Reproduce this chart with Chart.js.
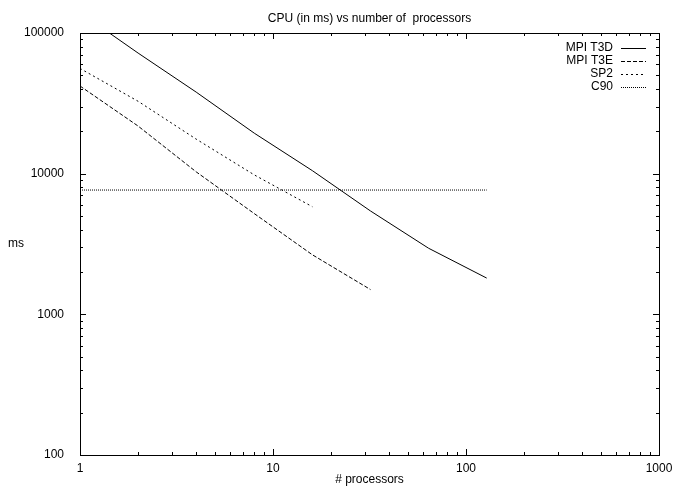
<!DOCTYPE html>
<html>
<head>
<meta charset="utf-8">
<script src="https://cdn.jsdelivr.net/npm/chart.js@4/dist/chart.umd.min.js"></script>
<style>
  html, body { margin: 0; padding: 0; background: #fff; }
  #wrap { width: 674px; height: 486px; }
</style>
</head>
<body>
<div id="wrap"><canvas id="cpuChart" width="674" height="486"></canvas></div>
<script>
// processors used in each run
const procs = [1, 2, 4, 8, 16, 32, 64, 128];
// CPU time in ms
const t3d = [140000, 72000, 38000, 19400, 10500, 5430, 2950, 1810];
const t3e = [42000, 21800, 10300, 5200, 2650, 1500];
const sp2 = [56000, 32700, 17600, 9800, 5820];
const c90Procs = [1, 128];
const c90 = [7650, 7650];

const xTicks = [1, 10, 100, 1000];
const yTicks = [100, 1000, 10000, 100000];

const FONT = '"Liberation Sans", Arial, sans-serif';

function pts(xs, ys) {
  return ys.map((y, i) => ({ x: xs[i], y: y }));
}

function series(label, xs, ys, dash) {
  return {
    label: label,
    data: pts(xs, ys),
    borderColor: '#000',
    borderWidth: 1,
    borderDash: dash,
    pointRadius: 0,
    fill: false,
    tension: 0
  };
}

// box, inward tick marks, titles and legend, gnuplot style
const framePlugin = {
  id: 'frame',
  afterDatasetsDraw(chart) {
    const ctx = chart.ctx;
    const a = chart.chartArea;
    const xs = chart.scales.x, ys = chart.scales.y;
    ctx.save();
    ctx.strokeStyle = '#000';
    ctx.lineWidth = 1;
    ctx.setLineDash([]);
    ctx.strokeRect(a.left + 0.5, a.top + 0.5, a.right - a.left, a.bottom - a.top);

    ctx.beginPath();
    for (let k = 0; k < 3; k++) {
      for (let m = 1; m <= 9; m++) {
        const v = m * Math.pow(10, k);
        const px = Math.round(xs.getPixelForValue(v)) + 0.5;
        const len = m === 1 ? 6 : 3;
        ctx.moveTo(px, a.bottom); ctx.lineTo(px, a.bottom - len);
        ctx.moveTo(px, a.top); ctx.lineTo(px, a.top + len);
      }
    }
    for (let k = 2; k < 5; k++) {
      for (let m = 1; m <= 9; m++) {
        const v = m * Math.pow(10, k);
        const py = Math.round(ys.getPixelForValue(v)) + 0.5;
        const len = m === 1 ? 6 : 3;
        ctx.moveTo(a.left, py); ctx.lineTo(a.left + len, py);
        ctx.moveTo(a.right, py); ctx.lineTo(a.right - len, py);
      }
    }
    ctx.stroke();

    ctx.fillStyle = '#000';
    ctx.font = '12px ' + FONT;
    ctx.textBaseline = 'middle';
    ctx.textAlign = 'center';
    ctx.fillText('CPU (in ms) vs number of  processors', (a.left + a.right) / 2, 19);
    ctx.fillText('# processors', (a.left + a.right) / 2, 480);
    ctx.textAlign = 'left';
    ctx.fillText('ms', 8, 244);

    // legend
    const rows = chart.data.datasets;
    rows.forEach((ds, i) => {
      const y = 48 + i * 13;
      ctx.textAlign = 'right';
      ctx.fillText(ds.label, 613, y);
      ctx.beginPath();
      ctx.setLineDash(ds.borderDash || []);
      ctx.moveTo(621, y + 0.5);
      ctx.lineTo(646, y + 0.5);
      ctx.stroke();
    });
    ctx.restore();
  }
};

new Chart(document.getElementById('cpuChart').getContext('2d'), {
  type: 'line',
  data: {
    datasets: [
      series('MPI T3D', procs, t3d, []),
      series('MPI T3E', procs, t3e, [4, 2]),
      series('SP2', procs, sp2, [2, 3]),
      series('C90', c90Procs, c90, [1, 1])
    ]
  },
  options: {
    responsive: false,
    animation: false,
    devicePixelRatio: 1,
    layout: { padding: { top: 33, right: 15, left: 0, bottom: 0 } },
    plugins: {
      legend: { display: false },
      title: { display: false },
      tooltip: { enabled: false }
    },
    scales: {
      x: {
        type: 'logarithmic',
        min: 1,
        max: 1000,
        grid: { display: false },
        border: { display: false },
        afterFit: s => { s.height = 31; s.paddingLeft = 0; s.paddingRight = 0; },
        afterBuildTicks: s => { s.ticks = xTicks.map(v => ({ value: v })); },
        ticks: {
          autoSkip: false,
          maxRotation: 0,
          padding: -2,
          color: '#000',
          font: { family: FONT, size: 12 },
          callback: v => String(v)
        }
      },
      y: {
        type: 'logarithmic',
        min: 100,
        max: 100000,
        grid: { display: false },
        border: { display: false },
        afterFit: s => { s.width = 80; s.paddingTop = 0; s.paddingBottom = 0; },
        afterBuildTicks: s => { s.ticks = yTicks.map(v => ({ value: v })); },
        ticks: {
          autoSkip: false,
          padding: 8,
          color: '#000',
          font: { family: FONT, size: 12 },
          callback: v => String(v)
        }
      }
    }
  },
  plugins: [framePlugin]
});
</script>
</body>
</html>
